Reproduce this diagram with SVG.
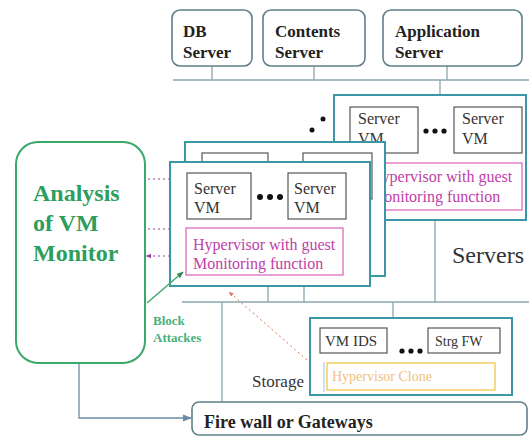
<svg xmlns="http://www.w3.org/2000/svg" width="529" height="436" viewBox="0 0 529 436">
<style>
.top{fill:#fff;stroke:#5f808a;stroke-width:1.6}
.tt{font-family:"Liberation Serif",serif;font-weight:bold;font-size:17px;fill:#222}
.panel{fill:#fff;stroke:#3a98a6;stroke-width:2}
.vm{fill:#fff;stroke:#555;stroke-width:1.2}
.vt{font-family:"Liberation Serif",serif;font-size:16px;fill:#333}
.hv{fill:#fff;stroke:#d860b8;stroke-width:1.2}
.ht{font-family:"Liberation Serif",serif;font-size:16px;fill:#c040a8}
.ln{fill:none;stroke:#8aa6b0;stroke-width:1.3}
.dot{fill:#111}
</style>
<defs>
<marker id="ab" viewBox="0 0 10 10" refX="9" refY="5" markerWidth="7" markerHeight="7" orient="auto"><path d="M0,1 L10,5 L0,9 z" fill="#6a8aa8"/></marker>
<marker id="ap" viewBox="0 0 10 10" refX="9" refY="5" markerWidth="5" markerHeight="5" orient="auto"><path d="M0,1 L10,5 L0,9 z" fill="#a040a0"/></marker>
<marker id="ag" viewBox="0 0 10 10" refX="9" refY="5" markerWidth="5" markerHeight="5" orient="auto"><path d="M0,1 L10,5 L0,9 z" fill="#2e8a5a"/></marker>
<marker id="ao" viewBox="0 0 10 10" refX="9" refY="5" markerWidth="5" markerHeight="5" orient="auto"><path d="M0,1 L10,5 L0,9 z" fill="#e07050"/></marker>
</defs>

<g id="connectors">
<path class="ln" d="M173,80 H529 M212,66 V80 M314,66 V80 M447,66 V80 M440,80 V95"/>
<path class="ln" d="M182,302 H529 M268,286 V302 M304,286 V302 M435,220 V302 M393,302 V318 M222,302 V402"/>
<path d="M79,363 V418 H191" fill="none" stroke="#6a8aa8" stroke-width="1.3" marker-end="url(#ab)"/>
<path d="M170,179 H146 M170,229 H146 M170,256 H146" fill="none" stroke="#a040a0" stroke-width="1.2" stroke-dasharray="2,3" marker-end="url(#ap)"/>
<path d="M307,360 L229,292" fill="none" stroke="#e07050" stroke-width="1" stroke-dasharray="2,3" marker-end="url(#ao)"/>
</g>

<g id="db-server"><rect class="top" x="172" y="10" width="80" height="56" rx="8"/><text class="tt" x="183" y="37">DB</text><text class="tt" x="183" y="58">Server</text></g>
<g id="contents-server"><rect class="top" x="263" y="10" width="102" height="56" rx="8"/><text class="tt" x="275" y="37">Contents</text><text class="tt" x="275" y="58">Server</text></g>
<g id="application-server"><rect class="top" x="383" y="10" width="139" height="56" rx="8"/><text class="tt" x="395" y="37">Application</text><text class="tt" x="395" y="58">Server</text></g>

<g id="back-panel">
<rect class="panel" x="334" y="95" width="192" height="125"/>
<rect class="vm" x="350" y="107" width="68" height="46"/>
<text class="vt" x="358" y="124">Server</text><text class="vt" x="358" y="144">VM</text>
<circle class="dot" cx="426" cy="131" r="2.6"/><circle class="dot" cx="435" cy="131" r="2.6"/><circle class="dot" cx="444" cy="131" r="2.6"/>
<rect class="vm" x="454" y="107" width="68" height="46"/>
<text class="vt" x="462" y="124">Server</text><text class="vt" x="462" y="144">VM</text>
<rect class="hv" x="350" y="163" width="172" height="47"/>
<text class="ht" x="370" y="182">Hypervisor with guest</text><text class="ht" x="370" y="202">Monitoring function</text>
</g>
<circle class="dot" cx="312" cy="130" r="2.5"/><circle class="dot" cx="323" cy="119" r="2.5"/>

<g id="middle-panel">
<rect class="panel" x="185" y="142" width="200" height="134"/>
<rect class="vm" x="202" y="153" width="66" height="46"/>
<rect class="vm" x="303" y="153" width="69" height="46"/>
</g>

<g id="front-panel">
<rect class="panel" x="170" y="162" width="200" height="124"/>
<rect class="vm" x="187" y="173" width="64" height="46"/>
<text class="vt" x="194" y="194">Server</text><text class="vt" x="194" y="213">VM</text>
<circle class="dot" cx="260" cy="197" r="3"/><circle class="dot" cx="270" cy="197" r="3"/><circle class="dot" cx="280" cy="197" r="3"/>
<rect class="vm" x="288" y="173" width="58" height="46"/>
<text class="vt" x="294" y="194">Server</text><text class="vt" x="294" y="213">VM</text>
<rect class="hv" x="186" y="228" width="157" height="47"/>
<text class="ht" x="193" y="250">Hypervisor with guest</text><text class="ht" x="193" y="269">Monitoring function</text>
</g>
<text x="452" y="263" font-family="Liberation Serif,serif" font-size="24" fill="#333">Servers</text>

<g id="analysis">
<rect x="16" y="142" width="129" height="221" rx="22" fill="#fff" stroke="#3aa86a" stroke-width="2"/>
<text font-family="Liberation Serif,serif" font-weight="bold" font-size="24" fill="#2e9e5e"><tspan x="33" y="201">Analysis</tspan><tspan x="33" y="231">of VM</tspan><tspan x="33" y="261">Monitor</tspan></text>
</g>
<path d="M147,303 L183,272" fill="none" stroke="#3aa86a" stroke-width="1.4" marker-end="url(#ag)"/>
<text font-family="Liberation Serif,serif" font-weight="bold" font-size="13" fill="#4ab07a"><tspan x="153" y="325">Block</tspan><tspan x="153" y="342">Attackes</tspan></text>

<g id="storage">
<rect class="panel" x="310" y="318" width="202" height="77"/>
<rect class="vm" x="320" y="328" width="67" height="25"/>
<text x="325" y="346" font-family="Liberation Serif,serif" font-size="15" fill="#333">VM IDS</text>
<circle class="dot" cx="402" cy="351" r="2.6"/><circle class="dot" cx="411" cy="351" r="2.6"/><circle class="dot" cx="420" cy="351" r="2.6"/>
<rect class="vm" x="428" y="328" width="72" height="25"/>
<text x="435" y="346" font-family="Liberation Serif,serif" font-size="14" fill="#333">Strg FW</text>
<rect x="327" y="363" width="168" height="27" fill="#fff" stroke="#f2cc55" stroke-width="1.4"/>
<line x1="324" y1="362" x2="324" y2="392" stroke="#a8d0e8" stroke-width="1.2"/>
<text x="332" y="381" font-family="Liberation Serif,serif" font-size="14" fill="#f0c080">Hypervisor Clone</text>
</g>
<text x="252" y="387" font-family="Liberation Serif,serif" font-size="17" fill="#333">Storage</text>

<g id="firewall">
<rect x="192" y="402" width="335" height="33" rx="7" fill="#fff" stroke="#5f808a" stroke-width="1.6"/>
<text x="204" y="428" font-family="Liberation Serif,serif" font-weight="bold" font-size="18" fill="#222">Fire wall or Gateways</text>
</g>
</svg>
